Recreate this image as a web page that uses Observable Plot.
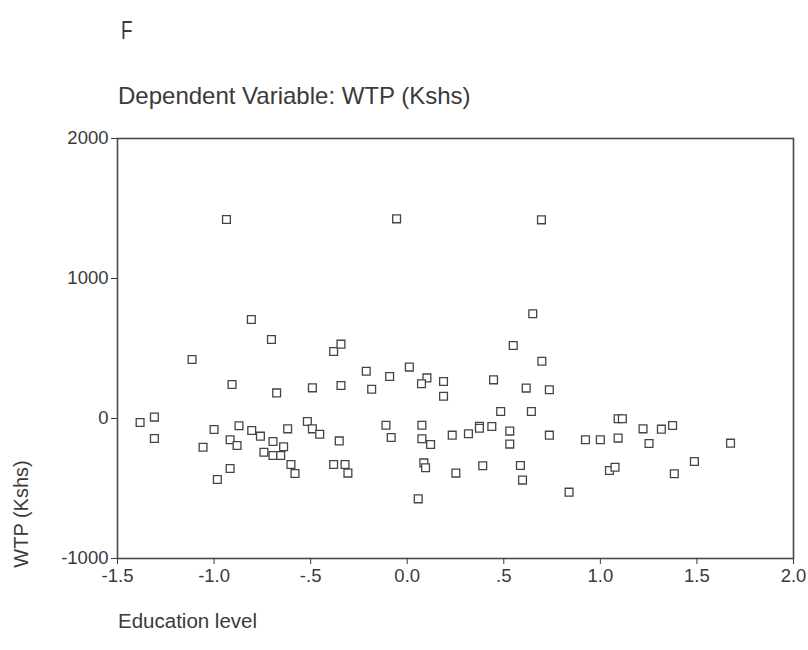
<!DOCTYPE html>
<html>
<head>
<meta charset="utf-8">
<script src="https://cdn.jsdelivr.net/npm/d3@7"></script>
<script src="https://cdn.jsdelivr.net/npm/@observablehq/plot@0.6"></script>
<style>
  html, body { margin: 0; padding: 0; background: #fff; }
  #wrap { position: relative; width: 808px; height: 650px; overflow: hidden; font-family: 'Liberation Sans', Arial, Helvetica, sans-serif; color: #3a3a3a; }
  #chart { position: absolute; left: 0; top: 0; }
  .lbl { position: absolute; white-space: nowrap; line-height: 1; }
  #ftitle { left: 121px; top: 18px; font-size: 25px; transform: scaleX(0.75); transform-origin: left center; }
  #subtitle { left: 118px; top: 84px; font-size: 24px; }
  #xlabel { left: 118px; top: 611px; font-size: 20.5px; }
  #ylabel { left: 21px; top: 514px; font-size: 20px; transform: translate(-50%, -50%) rotate(-90deg); }
</style>
</head>
<body>
<div id="wrap">
  <div id="chart"></div>
  <div class="lbl" id="ftitle">F</div>
  <div class="lbl" id="subtitle">Dependent Variable: WTP (Kshs)</div>
  <div class="lbl" id="xlabel">Education level</div>
  <div class="lbl" id="ylabel">WTP (Kshs)</div>
</div>
<script>
// Partial regression residuals: Education level (x) vs WTP in Kshs (y)
const education = [
  -0.936, -0.807, -0.055, 0.695, 0.650, -0.703, -1.114, -0.381, -0.343, -0.907,
  -0.676, -0.491, -0.343, -1.383, -1.309, -1.309, -1.000, -1.057, -0.871, -0.917,
  -0.881, -0.917, -0.983, -0.805, -0.760, -0.695, -0.742, -0.695, -0.655, -0.640,
  -0.619, -0.602, -0.581, -0.517, -0.491, -0.453, -0.352, -0.381, -0.322, -0.307,
  0.549, 0.697, -0.212, -0.091, 0.011, -0.184, 0.102, 0.074, 0.188, 0.188,
  0.447, 0.616, 0.736, 0.484, 0.643, -0.110, -0.083, 0.076, 0.076, 0.121,
  0.233, 0.317, 0.374, 0.374, 0.438, 0.531, 0.531, 0.736, 0.923, 0.086,
  0.095, 0.252, 0.391, 0.586, 0.597, 0.838, 0.057, 1.000, 1.092, 1.092,
  1.114, 1.221, 1.252, 1.316, 1.374, 1.047, 1.076, 1.383, 1.487, 1.674
];
const wtp = [
  1421, 707, 1426, 1419, 748, 564, 421, 479, 531, 243,
  183, 219, 236, -29, 10, -143, -79, -205, -52, -152,
  -193, -357, -436, -86, -126, -164, -241, -264, -264, -202,
  -74, -329, -393, -21, -74, -112, -160, -329, -329, -390,
  521, 409, 338, 300, 367, 209, 290, 248, 264, 159,
  276, 217, 205, 50, 50, -48, -136, -48, -145, -186,
  -119, -109, -55, -70, -57, -90, -183, -119, -152, -317,
  -352, -390, -338, -336, -440, -526, -574, -152, -140, -2,
  -2, -74, -179, -76, -50, -371, -348, -395, -307, -176
];
const xTicks = [-1.5, -1.0, -0.5, 0.0, 0.5, 1.0, 1.5, 2.0];
const xTickLabels = ["-1.5", "-1.0", "-.5", "0.0", ".5", "1.0", "1.5", "2.0"];
const yTicks = [-1000, 0, 1000, 2000];
const yTickLabels = ["-1000", "0", "1000", "2000"];

const data = education.map((x, i) => ({x, y: wtp[i]}));

const plot = Plot.plot({
  width: 808,
  height: 650,
  marginLeft: 117,
  marginRight: 15,
  marginTop: 138,
  marginBottom: 92,
  x: {domain: [-1.5, 2.0], label: null},
  y: {domain: [-1000, 2000], label: null},
  style: {fontFamily: "'Liberation Sans', Arial, Helvetica, sans-serif", fontSize: "18.5px", color: "#3a3a3a", background: "transparent"},
  marks: [
    Plot.frame({stroke: "#4a4a4a", strokeWidth: 1.6}),
    Plot.axisX({ticks: xTicks, tickFormat: d => xTickLabels[xTicks.indexOf(d)], tickSize: 6, tickPadding: 4, label: null}),
    Plot.axisY({ticks: yTicks, tickFormat: d => yTickLabels[yTicks.indexOf(d)], tickSize: 6, tickPadding: 3, label: null}),
    Plot.dot(data, {x: "x", y: "y", symbol: "square", r: 4.4, stroke: "#444", strokeWidth: 1.3, fill: "white"})
  ]
});
document.getElementById("chart").appendChild(plot);
</script>
</body>
</html>
